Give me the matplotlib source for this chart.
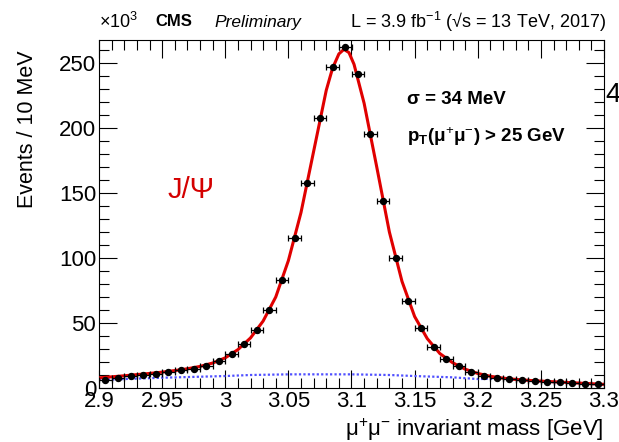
import numpy as np
import matplotlib
matplotlib.use("Agg")
import matplotlib.pyplot as plt
from matplotlib.ticker import MultipleLocator

# data points, 10 MeV bins (values in units of 10^3 events)
bin_centers = [2.905 + 0.01 * i for i in range(40)]
counts = [6.5, 7.9, 9.0, 10.2, 11.0, 12.1, 13.6, 14.9, 17.2, 20.8,
          26.2, 33.6, 44.6, 60.0, 83.0, 115.6, 157.9, 207.4, 246.7, 262.3,
          241.8, 195.6, 144.1, 99.7, 67.2, 45.9, 31.8, 22.1, 17.2, 12.6,
          9.5, 7.9, 6.7, 5.9, 5.4, 4.9, 4.4, 3.8, 3.3, 2.8]

# fit curve
fit_x = [2.900, 2.910, 2.920, 2.930, 2.940, 2.950, 2.960, 2.970, 2.980, 2.990,
         3.000, 3.010, 3.020, 3.030, 3.040, 3.050, 3.060, 3.070, 3.080, 3.085,
         3.090, 3.094, 3.098, 3.102, 3.106, 3.110, 3.120, 3.130, 3.140, 3.150,
         3.160, 3.170, 3.180, 3.190, 3.200, 3.210, 3.220, 3.230, 3.240, 3.250,
         3.260, 3.270, 3.280, 3.290, 3.300]
fit_y = [7.8, 8.6, 9.4, 10.3, 11.2, 12.2, 13.4, 14.8, 16.6, 19.2,
         23.2, 29.5, 38.5, 51.5, 70.0, 98.0, 135.0, 182.0, 229.0, 246.0,
         257.0, 260.5, 258.0, 249.0, 234.0, 219.0, 170.0, 120.0, 82.0, 55.0,
         38.0, 26.5, 19.5, 14.5, 11.2, 9.0, 7.6, 6.6, 5.9, 5.3,
         4.8, 4.3, 3.8, 3.3, 2.8]

# background component
bkg_x = [2.90, 2.95, 3.00, 3.02, 3.05, 3.10, 3.13, 3.15, 3.18, 3.20, 3.22, 3.25, 3.30]
bkg_y = [6.2, 7.9, 9.2, 10.0, 10.5, 10.5, 10.0, 9.2, 8.2, 6.9, 7.2, 5.0, 2.6]

xtick_labels = ["2.9", "2.95", "3", "3.05", "3.1", "3.15", "3.2", "3.25", "3.3"]

plt.rcParams["font.family"] = ["Liberation Sans", "DejaVu Sans"]
plt.rcParams.update({"mathtext.fontset": "custom",
                     "mathtext.rm": "Liberation Sans",
                     "mathtext.it": "Liberation Sans:italic",
                     "mathtext.bf": "Liberation Sans:bold"})

fig = plt.figure(figsize=(6.19, 4.42), dpi=100)
ax = fig.add_axes([99 / 619, 1 - 388 / 442, 505 / 619, 348 / 442])

ax.plot(bkg_x, bkg_y, color="#5050ff", ls=(0, (1, 1)), lw=1.6, zorder=2)
ax.plot(fit_x, fit_y, color="#e00000", lw=2.2, zorder=3)
ax.errorbar(bin_centers, counts, xerr=0.005, fmt="o", color="black", ms=4.3,
            elinewidth=0.9, capsize=2.5, capthick=0.9, zorder=4)

ax.set_xlim(2.9, 3.3)
ax.set_ylim(0, 267.7)
ax.xaxis.set_minor_locator(MultipleLocator(0.01))
ax.yaxis.set_major_locator(MultipleLocator(50))
ax.yaxis.set_minor_locator(MultipleLocator(10))
ax.set_xticks(np.arange(2.9, 3.3001, 0.05))
ax.set_xticklabels(xtick_labels)
ax.tick_params(which="both", direction="in", top=True, right=True, labelsize=16, pad=2)
ax.tick_params(which="major", length=13, width=0.8)
ax.tick_params(which="minor", length=7, width=0.8)
for s in ax.spines.values():
    s.set_linewidth(0.8)

ax.set_ylabel("Events / 10 MeV", fontsize=15.5)
ax.yaxis.set_label_coords(-0.12, 0.745)
ax.set_xlabel("μ$^{+}$μ$^{-}$ invariant mass [GeV]", fontsize=16)
ax.xaxis.set_label_coords(1.0, -0.082)
ax.xaxis.label.set_horizontalalignment("right")

fig.text(99 / 619, 1 - 22 / 442, r"$\times$10$^{3}$", fontsize=13, va="center", ha="left")
fig.text(155 / 619, 1 - 22 / 442, "CMS", fontsize=12, fontweight="bold", va="center")
fig.text(214 / 619, 1 - 22 / 442, "Preliminary", fontsize=12.5, style="italic", va="center")
fig.text(606 / 619, 1 - 22 / 442, "L = 3.9 fb$^{-1}$ (√s = 13 TeV, 2017)",
         fontsize=13, va="center", ha="right")

fig.text(407 / 619, 1 - 100 / 442, "σ = 34 MeV", fontsize=13.5,
         fontweight="bold", va="center")
fig.text(407 / 619, 1 - 137 / 442, r"p$_{\mathbf{T}}$(μ$^{+}$μ$^{-}$) > 25 GeV",
         fontsize=13.5, fontweight="bold", va="center")
fig.text(168 / 619, 1 - 190 / 442, "J/Ψ", fontsize=21, color="#d40000", va="center")
fig.text(605 / 619, 1 - 95 / 442, "4", fontsize=20, va="center", ha="left")

fig.savefig("out.png", dpi=100)
